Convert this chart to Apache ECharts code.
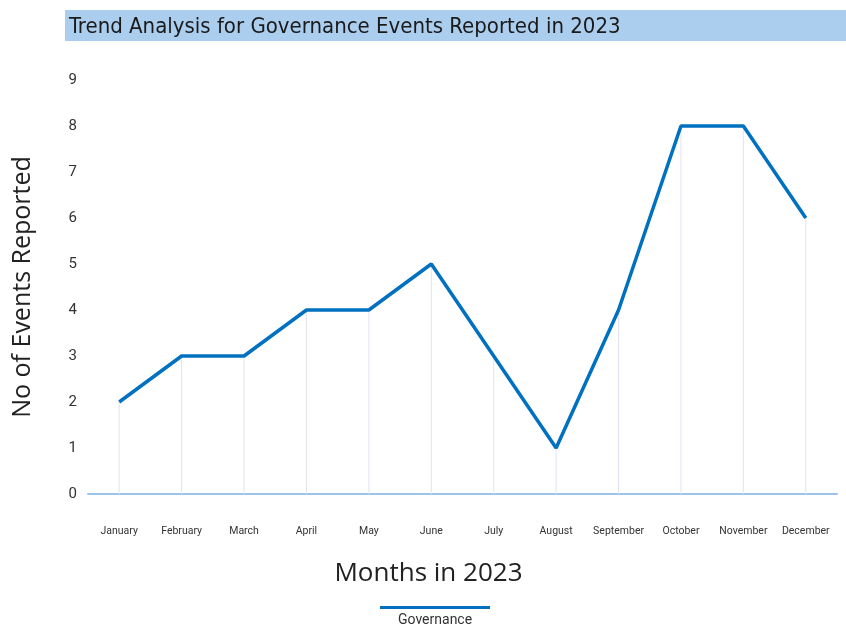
<!DOCTYPE html>
<html>
<head>
<meta charset="utf-8">
<script src="https://cdn.jsdelivr.net/npm/echarts@6/dist/echarts.min.js"></script>
<style>
  html, body { margin: 0; padding: 0; background: #fff; }
  #main { width: 846px; height: 624px; }
</style>
</head>
<body>
<div id="main"></div>
<script>
// chart data
const months = ["January", "February", "March", "April", "May", "June",
  "July", "August", "September", "October", "November", "December"];
const governance = [2, 3, 3, 4, 4, 5, 3, 1, 4, 8, 8, 6];
const yTicks = [0, 1, 2, 3, 4, 5, 6, 7, 8, 9];

const chart = echarts.init(document.getElementById("main"));
const option = {
  animation: false,
  graphic: [
    {
      type: "rect",
      left: 65,
      top: 10,
      shape: { width: 781, height: 31 },
      style: { fill: "#abcdee" },
      z: 0,
    },
  ],
  title: [
    {
      text: "Trend Analysis for Governance Events Reported in 2023",
      left: 64,
      top: 11,
      textStyle: {
        fontFamily: "'Liberation Sans Narrow', 'DejaVu Sans Condensed', sans-serif",
        fontSize: 22,
        fontWeight: "normal",
        color: "#1a1a1a",
      },
      z: 5,
    },
    {
      text: "Governance",
      left: 393,
      top: 608,
      textStyle: {
        fontFamily: "Roboto, sans-serif",
        fontSize: 14,
        fontWeight: "normal",
        color: "#333",
      },
    },
  ],
  legend: {
    data: ["Governance"],
    left: 375,
    top: 601,
    icon: "rect",
    itemWidth: 110,
    itemHeight: 3,
    formatter: () => "",
    selectedMode: false,
  },
  grid: {
    left: 88,
    right: 9,
    top: 80,
    bottom: 130,
  },
  xAxis: {
    type: "category",
    data: months,
    boundaryGap: true,
    axisLine: { lineStyle: { color: "#9cc3ea", width: 2 } },
    axisTick: { show: false },
    axisLabel: {
      margin: 32,
      fontSize: 10.5,
      color: "#333",
      fontFamily: "Roboto, sans-serif",
      interval: 0,
    },
    name: "Months in 2023",
    nameLocation: "middle",
    nameGap: 67,
    nameTextStyle: {
      fontSize: 26,
      color: "#222",
      fontFamily: "'Open Sans', sans-serif",
      padding: [0, 68, 0, 0],
    },
  },
  yAxis: {
    type: "value",
    min: yTicks[0],
    max: yTicks[yTicks.length - 1],
    interval: 1,
    splitLine: { show: false },
    axisLine: { show: false },
    axisTick: { show: false },
    axisLabel: {
      margin: 11,
      fontSize: 15,
      color: "#333",
      fontFamily: "Roboto, sans-serif",
    },
    name: "No of Events Reported",
    nameLocation: "middle",
    nameGap: 53,
    nameTextStyle: {
      fontSize: 25,
      color: "#222",
      fontFamily: "'Open Sans', sans-serif",
    },
  },
  series: [
    {
      // thin drop lines from each point
      name: "drop",
      type: "bar",
      data: governance,
      barWidth: 1,
      barGap: "-100%",
      itemStyle: { color: "#e1e4f1" },
      silent: true,
      z: 1,
    },
    {
      name: "Governance",
      type: "line",
      data: governance,
      showSymbol: false,
      symbol: "none",
      lineStyle: { color: "#0070c0", width: 3.5 },
      itemStyle: { color: "#0070c0" },
      z: 3,
    },
  ],
};
chart.setOption(option);
</script>
</body>
</html>
